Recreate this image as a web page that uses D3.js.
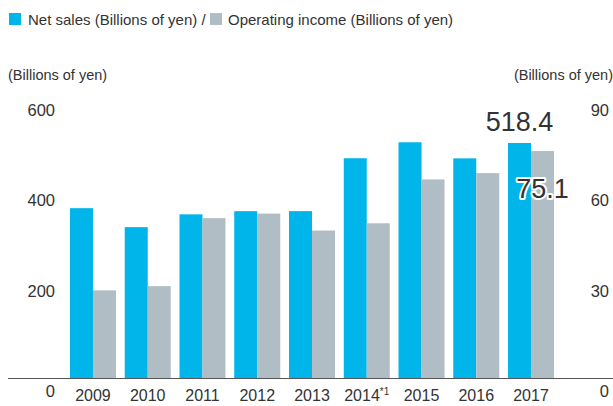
<!DOCTYPE html>
<html>
<head>
<meta charset="utf-8">
<script src="https://cdn.jsdelivr.net/npm/d3@7"></script>
<style>
  body { margin: 0; background: #fff; }
  svg text { font-family: "Liberation Sans", Arial, sans-serif; fill: #333; }
</style>
</head>
<body>
<svg id="chart" width="613" height="406"></svg>
<script>
var years = ['2009', '2010', '2011', '2012', '2013', '2014', '2015', '2016', '2017'];
var yearNotes = ['', '', '', '', '', '*1', '', '', ''];
var netSales = [374.6, 332.8, 361.0, 368.0, 368.1, 484.8, 520.0, 484.5, 518.4];
var operatingIncome = [29.0, 30.4, 52.9, 54.4, 48.8, 51.2, 65.7, 67.8, 75.1];
var leftTicks = [0, 200, 400, 600];
var rightTicks = [0, 30, 60, 90];

var blue = '#00b5e9';
var gray = '#b1bdc5';

var svg = d3.select('#chart');

var x = d3.scaleBand()
	.domain(years)
	.range([65.6, 558.4])
	.paddingInner(0.16)
	.paddingOuter(0.08);

var yLeft = d3.scaleLinear().domain([0, 600]).range([378, 106]);
var yRight = d3.scaleLinear().domain([0, 90]).range([378, 106]);

var half = x.bandwidth() / 2;

// legend
var legend = svg.append('g');
legend.append('rect').attr('x', 9).attr('y', 13).attr('width', 12).attr('height', 12).attr('fill', blue);
legend.append('text').attr('x', 28).attr('y', 24.5).attr('font-size', 15).text('Net sales (Billions of yen) /');
legend.append('rect').attr('x', 210).attr('y', 13).attr('width', 12).attr('height', 12).attr('fill', gray);
legend.append('text').attr('x', 228).attr('y', 24.5).attr('font-size', 15).text('Operating income (Billions of yen)');

// axis titles
svg.append('text').attr('x', 8).attr('y', 80).attr('font-size', 14.5).text('(Billions of yen)');
svg.append('text').attr('x', 613).attr('y', 80).attr('font-size', 14.5).attr('text-anchor', 'end').text('(Billions of yen)');

// bars
svg.append('g').selectAll('rect')
	.data(years)
	.join('rect')
	.attr('x', function(d) { return x(d); })
	.attr('y', function(d, i) { return yLeft(netSales[i]); })
	.attr('width', half)
	.attr('height', function(d, i) { return yLeft(0) - yLeft(netSales[i]); })
	.attr('fill', blue);

svg.append('g').selectAll('rect')
	.data(years)
	.join('rect')
	.attr('x', function(d) { return x(d) + half; })
	.attr('y', function(d, i) { return yRight(operatingIncome[i]); })
	.attr('width', half)
	.attr('height', function(d, i) { return yRight(0) - yRight(operatingIncome[i]); })
	.attr('fill', gray);

// baseline
svg.append('line')
	.attr('x1', 8).attr('x2', 613)
	.attr('y1', yLeft(0) + 0.5).attr('y2', yLeft(0) + 0.5)
	.attr('stroke', '#555').attr('stroke-width', 1);

// tick labels
svg.append('g').selectAll('text')
	.data(leftTicks)
	.join('text')
	.attr('x', 55)
	.attr('y', function(d) { return yLeft(d) + (d === 0 ? 13 : 4); })
	.attr('dy', '0.35em')
	.attr('text-anchor', 'end')
	.attr('font-size', 16.5)
	.text(function(d) { return d; });

svg.append('g').selectAll('text')
	.data(rightTicks)
	.join('text')
	.attr('x', 609)
	.attr('y', function(d) { return yRight(d) + (d === 0 ? 13 : 4); })
	.attr('dy', '0.35em')
	.attr('text-anchor', 'end')
	.attr('font-size', 16.5)
	.text(function(d) { return d; });

// year labels
var yearLabels = svg.append('g').selectAll('text')
	.data(years)
	.join('text')
	.attr('x', function(d) { return x(d) + half; })
	.attr('y', 401)
	.attr('text-anchor', 'middle')
	.attr('font-size', 16)
	.attr('fill', '#222');
yearLabels.append('tspan').text(function(d) { return d; });
yearLabels.append('tspan')
	.attr('font-size', 10)
	.attr('dy', -6)
	.text(function(d, i) { return yearNotes[i]; });

// value callouts for latest year
var last = years.length - 1;
svg.append('text')
	.attr('x', x(years[last]) + half / 2)
	.attr('y', yLeft(netSales[last]) - 12)
	.attr('text-anchor', 'middle')
	.attr('font-size', 27)
	.attr('fill', '#222')
	.text(netSales[last].toFixed(1));

svg.append('text')
	.attr('x', x(years[last]) + half * 1.5)
	.attr('y', 198)
	.attr('text-anchor', 'middle')
	.attr('font-size', 27)
	.attr('fill', '#222')
	.attr('stroke', '#fff')
	.attr('stroke-width', 4)
	.attr('stroke-linejoin', 'round')
	.attr('paint-order', 'stroke')
	.text(operatingIncome[last].toFixed(1));
</script>
</body>
</html>
